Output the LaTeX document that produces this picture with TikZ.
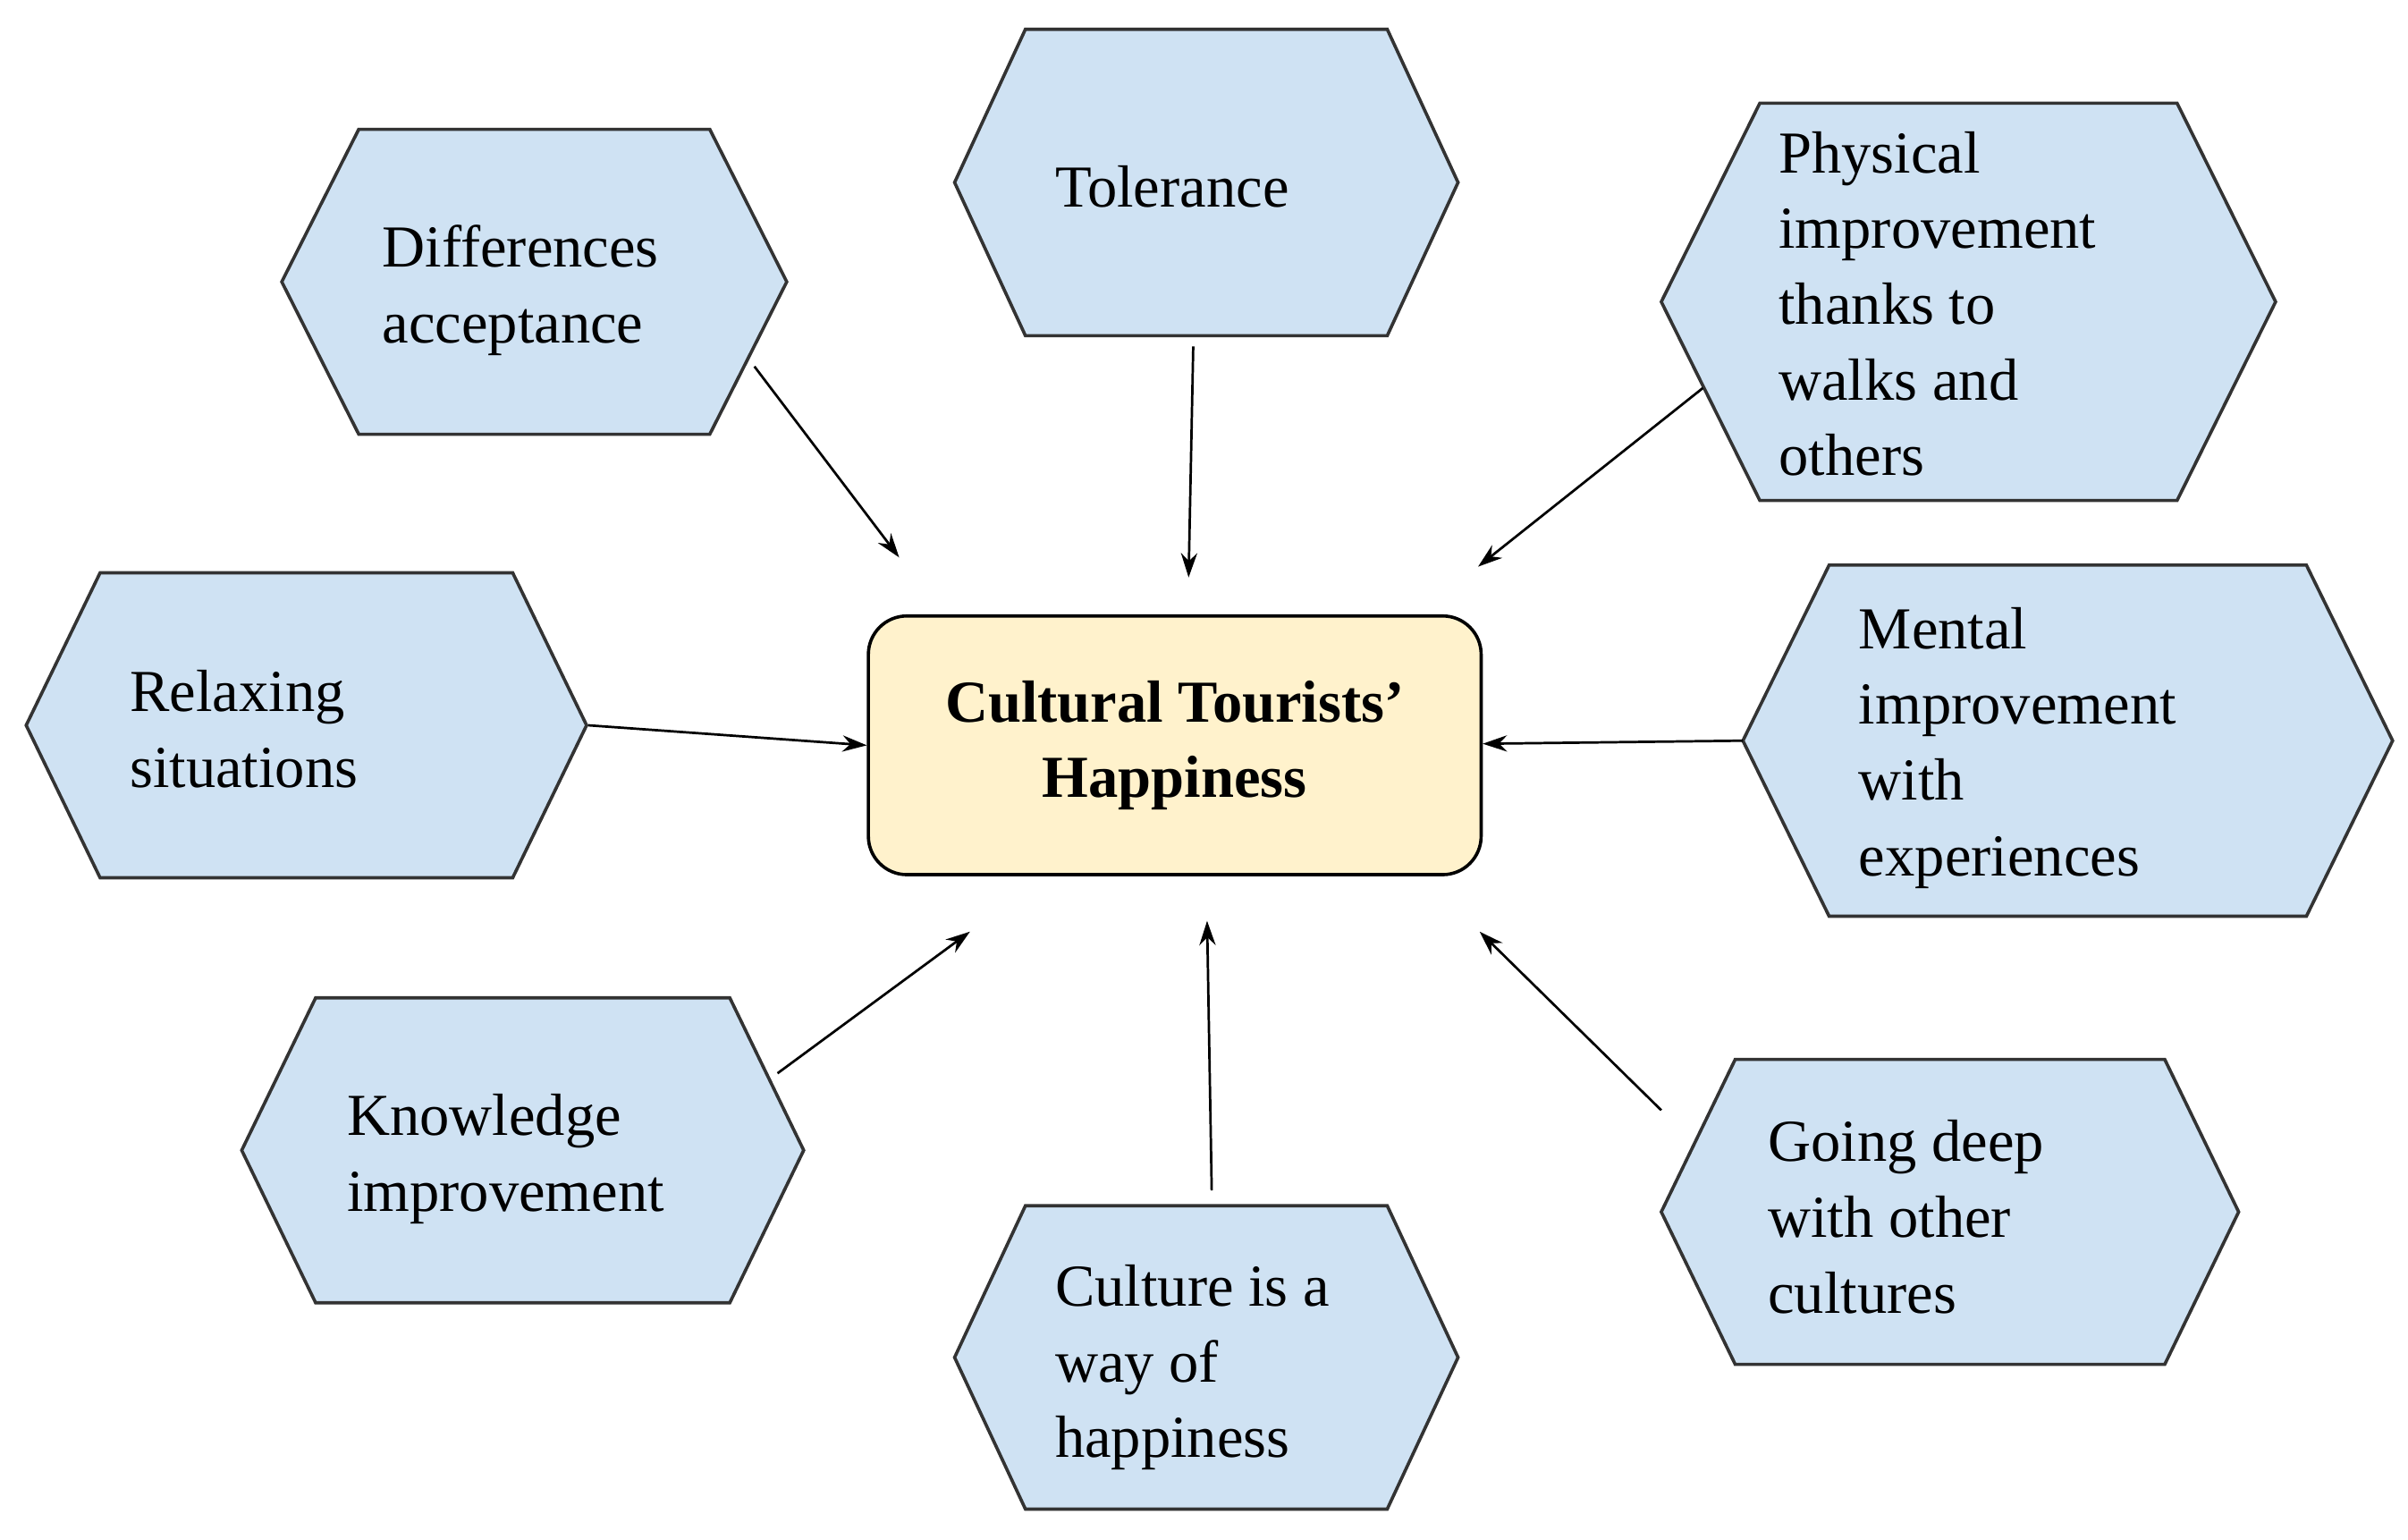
\documentclass[tikz,border=0pt]{standalone}
\usepackage{fontspec}
\setmainfont{Liberation Serif}
\usetikzlibrary{arrows.meta}
\definecolor{hexfill}{HTML}{CFE2F3}
\definecolor{boxfill}{HTML}{FFF2CC}
\tikzset{
  hex/.style={fill=hexfill,draw=black!80,line width=1.2pt,line join=miter},
  lbl/.style={anchor=north west,inner sep=0pt,align=left,font=\fontsize{22}{28}\selectfont},
  arr/.style={-{Stealth[length=9pt,width=6pt]},line width=0.9pt,shorten >=0pt}
}
\newcommand{\myhex}[5]{% x1 x2 y1 y2 indent
  \draw[hex] (#1,{(#3+#4)/2}) -- (#1+#5,#3) -- (#2-#5,#3) -- (#2,{(#3+#4)/2}) -- (#2-#5,#4) -- (#1+#5,#4) -- cycle;}
\begin{document}
\begin{tikzpicture}[x=0.02cm,y=-0.02cm]
\useasboundingbox (0,0) rectangle (1564,1000);
\myhex{183}{511}{84}{282}{50}
\myhex{620}{947}{19}{218}{46}
\myhex{1079}{1478}{67}{325}{64}
\myhex{17}{381}{372}{570}{48}
\myhex{1132}{1554}{367}{595}{56}
\myhex{157}{522}{648}{846}{48}
\myhex{620}{947}{783}{980}{46}
\myhex{1079}{1454}{688}{886}{48}
\node[draw=black,fill=boxfill,line width=1.2pt,rounded corners=0.5cm,minimum width=398*0.02cm,minimum height=168*0.02cm,align=center,font=\fontsize{22}{28}\selectfont\bfseries] (c) at (763,484) {Cultural Tourists'\\Happiness};
\node[lbl] (n1) at (248,146) {Differences\\acceptance};
\node[lbl] (n2) at (685,107) {Tolerance};
\node[lbl] (n3) at (1155,85) {Physical\\improvement\\thanks to\\walks and\\others};
\node[lbl] (n4) at (84,435) {Relaxing\\situations};
\node[lbl] (n5) at (1207,394) {Mental\\improvement\\with\\experiences};
\node[lbl] (n6) at (225,710) {Knowledge\\improvement};
\node[lbl] (n7) at (685,821) {Culture is a\\way of\\happiness};
\node[lbl] (n8) at (1148,727) {Going deep\\with other\\cultures};
\coordinate (t1) at (490,238); \coordinate (h1) at (584,362);
\coordinate (t2) at (775,225); \coordinate (h2) at (772,375);
\coordinate (t3) at (1106,252); \coordinate (h3) at (960,368);
\coordinate (t4) at (382,471); \coordinate (h4) at (563,484);
\coordinate (t5) at (1132,481); \coordinate (h5) at (963,483);
\coordinate (t6) at (505,697); \coordinate (h6) at (630,605);
\coordinate (t7) at (787,773); \coordinate (h7) at (784,598);
\coordinate (t8) at (1079,721); \coordinate (h8) at (961,605);
\foreach \i in {1,...,8} \draw[arr] (t\i) -- (h\i);
\end{tikzpicture}
\end{document}
